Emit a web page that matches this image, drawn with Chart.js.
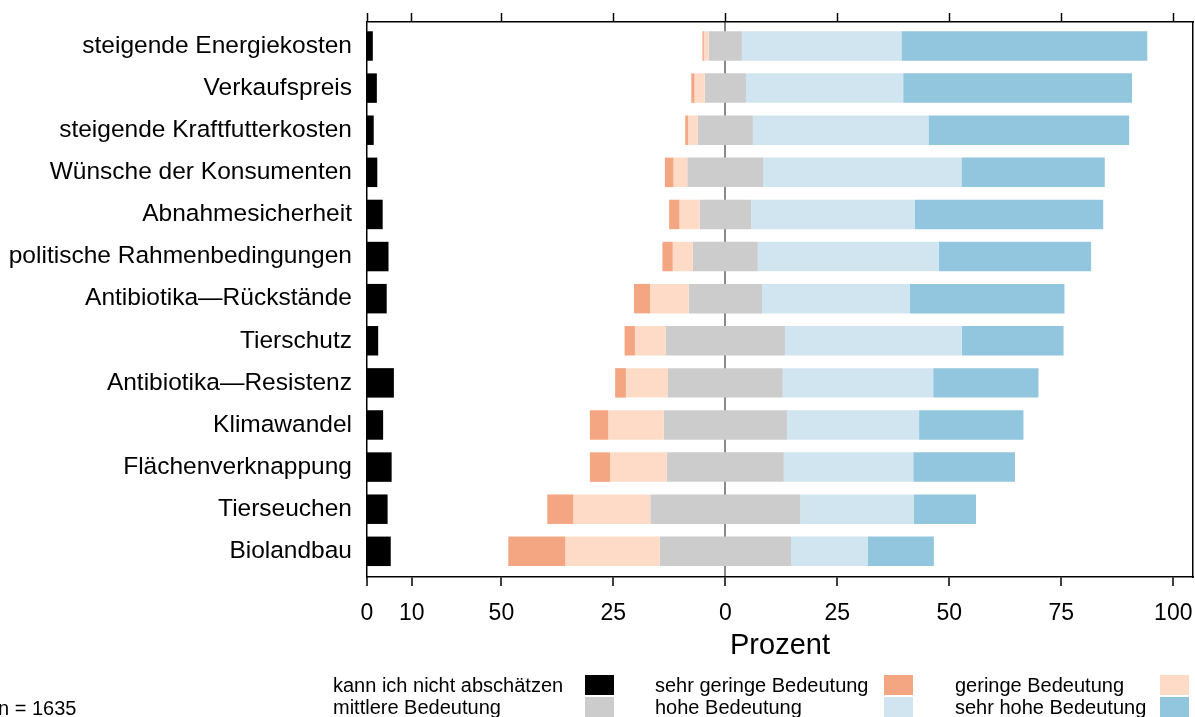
<!DOCTYPE html>
<html>
<head>
<meta charset="utf-8">
<script src="https://cdn.jsdelivr.net/npm/chart.js@4.4.1/dist/chart.umd.min.js"></script>
<style>
  body { margin: 0; background: #fff; }
  #wrap { width: 1195px; height: 717px; }
</style>
</head>
<body>
<div id="wrap"><canvas id="mycanvas" width="1195" height="717"></canvas></div>
<script>
// Kategorien (von oben nach unten)
var categories = [
	"steigende Energiekosten",
	"Verkaufspreis",
	"steigende Kraftfutterkosten",
	"Wünsche der Konsumenten",
	"Abnahmesicherheit",
	"politische Rahmenbedingungen",
	"Antibiotika—Rückstände",
	"Tierschutz",
	"Antibiotika—Resistenz",
	"Klimawandel",
	"Flächenverknappung",
	"Tierseuchen",
	"Biolandbau"
];

// Anteile in Prozent
var kannNicht  = [1.3, 2.2, 1.5, 2.3, 3.5, 4.8, 4.4, 2.5, 6.0, 3.6, 5.5, 4.6, 5.3];
var sehrGering = [0.3, 0.7, 0.6, 1.9, 2.3, 2.3, 3.6, 2.3, 2.4, 4.1, 4.5, 5.8, 12.7];
var gering     = [1.1, 2.3, 2.2, 3.1, 4.5, 4.5, 8.6, 6.9, 9.4, 12.4, 12.7, 17.2, 21.1];
var mittlere   = [7.4, 9.2, 12.3, 17.0, 11.5, 14.5, 16.4, 26.6, 25.6, 27.5, 26.1, 33.5, 29.3];
var hohe       = [35.6, 35.1, 39.2, 44.2, 36.5, 40.4, 33.0, 39.5, 33.6, 29.5, 28.9, 25.3, 17.1];
var sehrHohe   = [54.9, 51.1, 44.8, 32.0, 42.1, 34.0, 34.5, 22.7, 23.5, 23.3, 22.7, 13.9, 14.8];

// Achse: linkes Feld (0..10) beginnt bei -80
var panelStart = -80;
var tickValues = [-80, -70, -50, -25, 0, 25, 50, 75, 100];
var tickLabels = ["0", "10", "50", "25", "0", "25", "50", "75", "100"];
var sampleNote = "n = 1635";

var colors = {
	kann: "#000000",
	sehrGering: "#f4a582",
	gering: "#fddbc7",
	mittlere: "#cccccc",
	hohe: "#d1e5f0",
	sehrHohe: "#92c5de"
};

// schwebende Balken aus den Anteilen aufbauen (y = Zeilenindex)
var black = [], sg = [], g = [], m = [], h = [], sh = [];
for (var i = 0; i < categories.length; i++) {
	var half = mittlere[i] / 2;
	black.push({ y: i, x: [panelStart, panelStart + kannNicht[i]] });
	sg.push({ y: i, x: [-(gering[i] + half + sehrGering[i]), -(gering[i] + half)] });
	g.push({ y: i, x: [-(gering[i] + half), -half] });
	m.push({ y: i, x: [-half, half] });
	h.push({ y: i, x: [half, half + hohe[i]] });
	sh.push({ y: i, x: [half + hohe[i], half + hohe[i] + sehrHohe[i]] });
}

function ds(label, data, color) {
	return {
		label: label,
		data: data,
		backgroundColor: color,
		borderWidth: 0,
		grouped: false,
		categoryPercentage: 1.0,
		barPercentage: 0.70
	};
}

var chartdata = {
	datasets: [
		ds("kann ich nicht abschätzen", black, colors.kann),
		ds("sehr geringe Bedeutung", sg, colors.sehrGering),
		ds("geringe Bedeutung", g, colors.gering),
		ds("mittlere Bedeutung", m, colors.mittlere),
		ds("hohe Bedeutung", h, colors.hohe),
		ds("sehr hohe Bedeutung", sh, colors.sehrHohe)
	]
};

// Legende unten: Text links, Farbfeld rechts, 2 Zeilen x 3 Spalten
var legendPlugin = {
	id: "bottomLegend",
	afterDraw: function(chart) {
		var c = chart.ctx;
		var textX = [333, 655, 955];
		var boxX = [585, 884, 1160];
		var rowY = [675, 697];
		c.save();
		c.font = "20px 'Liberation Sans', Arial, sans-serif";
		c.textBaseline = "middle";
		c.textAlign = "left";
		chart.data.datasets.forEach(function(d, k) {
			var row = k < 3 ? 0 : 1;
			var col = k % 3;
			c.fillStyle = d.backgroundColor;
			c.fillRect(boxX[col], rowY[row], 29, 20);
			c.fillStyle = "#000";
			c.fillText(d.label, textX[col], rowY[row] + 11);
		});
		c.fillText(sampleNote, -2, 709);
		c.restore();
	}
};

Chart.defaults.font.family = "'Liberation Sans', Arial, sans-serif";
Chart.defaults.color = "#000";

function setTicks(scale) {
	scale.ticks = tickValues.map(function(v) { return { value: v }; });
}

function noSidePad(scale) {
	scale.paddingLeft = 0;
	scale.paddingRight = 0;
}

var ctx = document.getElementById("mycanvas");
var LikertChart = new Chart(ctx, {
	type: "bar",
	data: chartdata,
	plugins: [legendPlugin],
	options: {
		indexAxis: "y",
		responsive: false,
		animation: false,
		layout: { padding: { top: 13, right: 2, bottom: 56.4, left: 0 } },
		plugins: {
			legend: { display: false },
			tooltip: { enabled: false }
		},
		scales: {
			x: {
				type: "linear",
				position: "bottom",
				min: panelStart,
				max: 104.4,
				afterBuildTicks: setTicks,
				afterFit: noSidePad,
				ticks: {
					autoSkip: false,
					maxRotation: 0,
					padding: 14,
					font: { size: 23 },
					callback: function(v, idx) { return tickLabels[idx]; }
				},
				grid: {
					color: function(c) { return c.tick && c.tick.value === 0 ? "#8a8a8a" : "rgba(0,0,0,0)"; },
					lineWidth: 2,
					tickColor: "#000",
					tickWidth: 1.5,
					tickLength: 9
				},
				border: { color: "#000", width: 1.5 },
				title: {
					display: true,
					text: "Prozent",
					font: { size: 29, lineHeight: 1.0 },
					padding: { top: -10, bottom: 0 }
				}
			},
			x2: {
				type: "linear",
				position: "top",
				min: panelStart,
				max: 104.4,
				afterBuildTicks: setTicks,
				afterFit: noSidePad,
				ticks: { display: false },
				grid: {
					drawOnChartArea: false,
					tickColor: "#000",
					tickWidth: 1.5,
					tickLength: 9
				},
				border: { color: "#000", width: 1.5 }
			},
			y: {
				type: "linear",
				position: "left",
				reverse: true,
				min: -0.57,
				max: 12.61,
				offset: false,
				afterBuildTicks: function(scale) {
					scale.ticks = categories.map(function(c, k) { return { value: k }; });
				},
				afterFit: function(scale) {
					scale.width = 367;
					scale.paddingTop = 0;
					scale.paddingBottom = 0;
				},
				ticks: {
					padding: 15,
					autoSkip: false,
					font: { size: 24.5 },
					callback: function(v) { return categories[v]; }
				},
				grid: { display: false, drawTicks: false },
				border: { color: "#000", width: 1.5 }
			},
			y2: {
				type: "linear",
				position: "right",
				afterFit: function(scale) {
					scale.width = 0;
					scale.paddingTop = 0;
					scale.paddingBottom = 0;
				},
				ticks: { display: false },
				grid: { display: false, drawTicks: false },
				border: { color: "#000", width: 1.5 }
			}
		}
	}
});
</script>
</body>
</html>
